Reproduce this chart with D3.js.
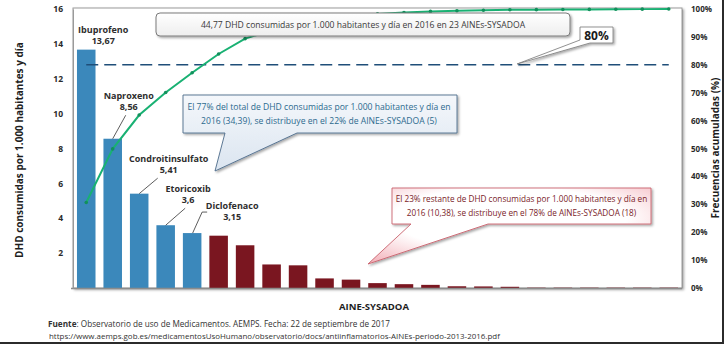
<!DOCTYPE html>
<html lang="es">
<head>
<meta charset="utf-8">
<script src="https://cdn.jsdelivr.net/npm/d3@7"></script>
<style>
  html, body { margin: 0; padding: 0; background: #fff; }
  svg { display: block; font-family: "Open Sans", "DejaVu Sans", sans-serif; }
</style>
</head>
<body>
<svg id="chart" width="724" height="344"></svg>
<script>
// DHD (dosis por 1.000 habitantes y día) por principio activo, 2016, ordenado de mayor a menor
const categories = [
  "Ibuprofeno", "Naproxeno", "Condroitinsulfato", "Etoricoxib", "Diclofenaco",
  "P06", "P07", "P08", "P09", "P10", "P11", "P12", "P13", "P14", "P15", "P16",
  "P17", "P18", "P19", "P20", "P21", "P22", "P23"
];
const dhd = [
  13.67, 8.56, 5.41, 3.6, 3.15,
  3.0, 2.45, 1.35, 1.3, 0.55, 0.48, 0.28, 0.22, 0.18, 0.1, 0.09,
  0.07, 0.02, 0.02, 0.02, 0.02, 0.02, 0.02
];
// Los 5 primeros principios activos concentran el 77% del consumo
const topCount = 5;
const leftTicks = [2, 4, 6, 8, 10, 12, 14, 16];
const rightTicks = [0, 0.1, 0.2, 0.3, 0.4, 0.5, 0.6, 0.7, 0.8, 0.9, 1];
const paretoCut = 0.8;

const titleTotal = "44,77 DHD consumidas por 1.000 habitantes y día en 2016 en 23 AINEs-SYSADOA";
const noteTop = ["El 77%  del total de DHD consumidas por 1.000 habitantes y día en",
                 "2016 (34,39), se distribuye en el 22% de AINEs-SYSADOA (5)"];
const noteRest = ["El 23% restante de DHD consumidas por 1.000 habitantes y día en",
                  "2016 (10,38), se distribuye en el 78% de AINEs-SYSADOA (18)"];
const sourceLines = ["Observatorio de uso de Medicamentos. AEMPS. Fecha: 22 de septiembre de 2017",
                     "https://www.aemps.gob.es/medicamentosUsoHumano/observatorio/docs/antiinflamatorios-AINEs-periodo-2013-2016.pdf"];

// Colocación de las etiquetas de los 5 primeros (relativa a la parte alta de cada barra)
const labelLayout = [
  { dx: 17,   dy: -5.5,  leader: null },
  { dx: 16,   dy: -28.5, leader: [[13, -23.5], [0, 0]] },
  { dx: 29.5, dy: -20.5, leader: [[18.5, -15.5], [0, 0]] },
  { dx: 22.4, dy: -22,   leader: [[19.5, -17], [0, 0]] },
  { dx: 40,   dy: -13,   leader: [[15, -21], [10, -21], [0.5, 0]] }
];

const svg = d3.select("#chart");
const M = { left: 73, right: 682, top: 9, bottom: 288 };

const x = d3.scaleBand().domain(categories).range([M.left, M.right])
  .paddingInner(0.3).paddingOuter(0.15);
const y = d3.scaleLinear().domain([0, 16]).range([M.bottom, M.top]);
const yPct = d3.scaleLinear().domain([0, 1]).range([M.bottom, M.top]);

const total = d3.sum(dhd);
const cumulative = d3.cumsum(dhd).map(v => v / total);
const fmt = v => String(v).replace(".", ",");

const BLUE = "#3b88bb", MAROON = "#7a1620", GREEN = "#19b173";

// ---- filtros y degradados ----
const defs = svg.append("defs");
const shadow = defs.append("filter").attr("id", "shadow")
  .attr("x", "-10%").attr("y", "-20%").attr("width", "130%").attr("height", "160%");
shadow.append("feDropShadow").attr("dx", 1.5).attr("dy", 1.5)
  .attr("stdDeviation", 1.2).attr("flood-color", "#000").attr("flood-opacity", 0.35);

const gBlue = defs.append("linearGradient").attr("id", "gBlue")
  .attr("x1", 0).attr("y1", 0).attr("x2", 0).attr("y2", 1);
gBlue.append("stop").attr("offset", "0%").attr("stop-color", "#f4f7fb");
gBlue.append("stop").attr("offset", "100%").attr("stop-color", "#dbe5f0");

const gRed = defs.append("radialGradient").attr("id", "gRed")
  .attr("cx", "50%").attr("cy", "40%").attr("r", "75%");
gRed.append("stop").attr("offset", "55%").attr("stop-color", "#ffffff");
gRed.append("stop").attr("offset", "100%").attr("stop-color", "#f3b3bb");

const gBox = defs.append("linearGradient").attr("id", "gBox")
  .attr("x1", 0).attr("y1", 0).attr("x2", 0).attr("y2", 1);
gBox.append("stop").attr("offset", "0%").attr("stop-color", "#ffffff");
gBox.append("stop").attr("offset", "100%").attr("stop-color", "#eeeeee");

// marco exterior
svg.append("path").attr("d", "M0,343 H723 V0")
  .attr("fill", "none").attr("stroke", "#2b2b2b").attr("stroke-width", 2);

// ---- área de trazado ----
svg.append("rect")
  .attr("x", M.left).attr("y", M.top - 1)
  .attr("width", M.right - M.left).attr("height", M.bottom - M.top + 1)
  .attr("fill", "#fff").attr("stroke", "#9a9a9a").attr("stroke-width", 1)
  .attr("filter", "url(#shadow)");

// barras
svg.append("g").selectAll("rect").data(dhd).join("rect")
  .attr("x", (d, i) => x(categories[i]))
  .attr("y", d => y(d))
  .attr("width", x.bandwidth())
  .attr("height", d => M.bottom - y(d))
  .attr("fill", (d, i) => i < topCount ? BLUE : MAROON);

// eje inferior
svg.append("line").attr("x1", M.left - 2).attr("x2", M.right)
  .attr("y1", M.bottom + 0.5).attr("y2", M.bottom + 0.5)
  .attr("stroke", "#8c8c8c").attr("stroke-width", 1.5);

// ejes
const axL = svg.append("g").attr("transform", `translate(${M.left},0)`)
  .call(d3.axisLeft(y).tickValues(leftTicks).tickSize(0).tickPadding(10));
axL.select(".domain").attr("stroke", "#9a9a9a");
axL.selectAll("text").attr("font-size", 8.5).attr("font-weight", 700)
  .attr("fill", "#2a2a2a").attr("font-family", "'Open Sans', sans-serif");

const axR = svg.append("g").attr("transform", `translate(${M.right},0)`)
  .call(d3.axisRight(yPct).tickValues(rightTicks).tickFormat(d3.format(".0%"))
    .tickSize(0).tickPadding(9));
axR.select(".domain").attr("stroke", "#9a9a9a");
axR.selectAll("text").attr("font-size", 8).attr("font-weight", 700)
  .attr("fill", "#2a2a2a").attr("font-family", "'Open Sans', sans-serif");

// línea del 80%
const cx0 = x(categories[0]) + x.bandwidth() / 2;
const cxN = x(categories[categories.length - 1]) + x.bandwidth() / 2;
svg.append("line")
  .attr("x1", cx0).attr("x2", cxN)
  .attr("y1", yPct(paretoCut)).attr("y2", yPct(paretoCut))
  .attr("stroke", "#1f4e79").attr("stroke-width", 1.6)
  .attr("stroke-dasharray", "12,6");

// curva acumulada
const line = d3.line()
  .x((d, i) => x(categories[i]) + x.bandwidth() / 2)
  .y(d => yPct(d));
svg.append("path").datum(cumulative)
  .attr("d", line).attr("fill", "none")
  .attr("stroke", GREEN).attr("stroke-width", 2);
svg.append("g").selectAll("circle").data(cumulative).join("circle")
  .attr("cx", (d, i) => x(categories[i]) + x.bandwidth() / 2)
  .attr("cy", d => yPct(d)).attr("r", 1.8).attr("fill", "#12905c");

// etiquetas de los principales principios activos
const lab = svg.append("g").attr("font-weight", 700).attr("fill", "#2e2e2e")
  .attr("font-size", 9).attr("text-anchor", "middle");
labelLayout.forEach((L, i) => {
  const cx = x(categories[i]) + x.bandwidth() / 2;
  const top = y(dhd[i]);
  lab.append("text").attr("x", cx + L.dx).attr("y", top + L.dy - 11.5).text(categories[i]);
  lab.append("text").attr("x", cx + L.dx).attr("y", top + L.dy).text(fmt(dhd[i]));
  if (L.leader) {
    svg.append("path")
      .attr("d", d3.line()(L.leader.map(p => [cx + p[0], top + p[1]])))
      .attr("fill", "none").attr("stroke", "#333").attr("stroke-width", 0.8);
  }
});

// recuadro del total
svg.append("rect").attr("x", 156).attr("y", 13).attr("width", 414).attr("height", 23)
  .attr("rx", 4).attr("fill", "url(#gBox)").attr("stroke", "#7a7a7a")
  .attr("filter", "url(#shadow)");
svg.append("text").attr("x", 363).attr("y", 28).attr("text-anchor", "middle")
  .attr("font-size", 8.6).attr("fill", "#3a3a3a").text(titleTotal);

// recuadro 80%
svg.append("path").attr("d", "M580,27 H613 V43 H590 L517,64 L580,40 Z")
  .attr("fill", "#fff").attr("stroke", "#777").attr("stroke-width", 0.8)
  .attr("filter", "url(#shadow)");
svg.append("text").attr("x", 596.5).attr("y", 39.5).attr("text-anchor", "middle")
  .attr("font-size", 12).attr("font-weight", 700).attr("fill", "#1a1a1a").text("80%");

// nota del 77%
svg.append("path").attr("d", "M183,95 H457 V133 H297 L215,171 L225,133 H183 Z")
  .attr("fill", "url(#gBlue)").attr("stroke", "#4d6b8a").attr("stroke-width", 0.9)
  .attr("filter", "url(#shadow)");
svg.append("g").attr("font-size", 8.6).attr("fill", "#2c6a8e").attr("text-anchor", "middle")
  .selectAll("text").data(noteTop).join("text")
  .attr("x", 319).attr("y", (d, i) => 110 + i * 13.5).text(d => d);

// nota del 23%
svg.append("path").attr("d", "M392,188 H651 V224 H488 L368,264 L411,224 H392 Z")
  .attr("fill", "url(#gRed)").attr("stroke", "#c9626d").attr("stroke-width", 0.9)
  .attr("filter", "url(#shadow)");
svg.append("g").attr("font-size", 8.2).attr("fill", "#7a2328").attr("text-anchor", "middle")
  .selectAll("text").data(noteRest).join("text")
  .attr("x", 521.5).attr("y", (d, i) => 202 + i * 13.5).text(d => d);

// títulos de ejes
svg.append("text").attr("transform", `translate(23,150) rotate(-90)`)
  .attr("text-anchor", "middle").attr("font-size", 10).attr("font-weight", 700)
  .attr("fill", "#1e1e1e").text("DHD consumidas por 1.000 habitantes y día");
svg.append("text").attr("transform", `translate(719,148) rotate(-90)`)
  .attr("text-anchor", "middle").attr("font-size", 10).attr("font-weight", 700)
  .attr("fill", "#1e1e1e").text("Frecuencias acumuladas (%)");
svg.append("text").attr("x", 374).attr("y", 310).attr("text-anchor", "middle")
  .attr("font-size", 9.5).attr("font-weight", 700).attr("fill", "#1e1e1e").text("AINE-SYSADOA");

// fuente
const src = svg.append("g").attr("fill", "#333")
  .attr("font-family", "'Liberation Sans Narrow', 'Open Sans', sans-serif");
const s1 = src.append("text").attr("x", 48).attr("y", 327).attr("font-size", 8.2);
s1.append("tspan").attr("font-weight", 700).text("Fuente");
s1.append("tspan").text(": " + sourceLines[0]);
src.append("text").attr("x", 49).attr("y", 339).attr("font-size", 7.95).text(sourceLines[1]);
</script>
</body>
</html>
